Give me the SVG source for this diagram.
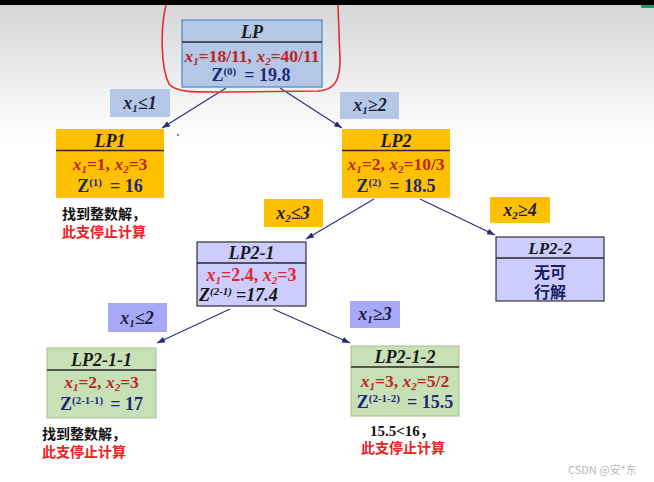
<svg xmlns="http://www.w3.org/2000/svg" width="654" height="482" viewBox="0 0 654 482">
<defs>
<linearGradient id="bg" x1="0" y1="0" x2="0" y2="1" gradientUnits="objectBoundingBox">
<stop offset="0" stop-color="#d4d4d4"/>
<stop offset="0.22" stop-color="#f6f6f6"/>
<stop offset="0.3" stop-color="#ffffff"/>
<stop offset="1" stop-color="#ffffff"/>
</linearGradient>
<marker id="arr" viewBox="0 0 8 6" refX="8" refY="3" markerWidth="8" markerHeight="6" markerUnits="userSpaceOnUse" orient="auto">
<path d="M0,0 L8,3 L0,6 z" fill="#2a2a80"/>
</marker>
<style>
.t{font-family:"Liberation Serif","Times New Roman",serif;font-weight:bold}
.title{font-style:italic;font-size:18px;fill:#1a1a1a;text-anchor:middle}
.val{font-size:17.5px;fill:#b8281e;text-anchor:middle}
.z{font-size:18px;fill:#1c2a7c;text-anchor:middle}
.lbl{font-style:italic;font-size:18px;fill:#1e1e40;text-anchor:middle}
.i{font-style:italic}
.sub{font-size:11px}
.sup{font-size:11px}
.sep{stroke:#2a2a2a;stroke-width:1.5}
.cn{font-family:"Noto Sans CJK SC",sans-serif;font-weight:bold;font-size:14px}
.blk{fill:#111}
.red{fill:#f02020}
.edge{stroke:#2f2f80;stroke-width:1.2;fill:none;marker-end:url(#arr)}
.blue{fill:#b4c7e7}
.org{fill:#ffc000}
.lav{fill:#a8a8f8}
</style>
</defs>
<rect x="0" y="0" width="654" height="482" fill="url(#bg)"/>
<rect x="0" y="0" width="654" height="5" fill="#000"/>
<rect x="641" y="5" width="13" height="3" fill="#17a06f"/>

<g id="connectors">
<line class="edge" x1="226" y1="88" x2="162" y2="128"/>
<line class="edge" x1="280" y1="88" x2="342" y2="128"/>
<line class="edge" x1="374" y1="199" x2="306" y2="239"/>
<line class="edge" x1="420" y1="199" x2="495" y2="235"/>
<line class="edge" x1="230" y1="309" x2="157" y2="343"/>
<line class="edge" x1="273" y1="309" x2="350" y2="343"/>
</g>

<g id="annot-circle">
<path d="M166,5 C160,30 161,68 169,84 C176,93 196,92 230,92 L318,91 C335,90 340,80 340,60 L338,5" fill="none" stroke="#e43030" stroke-width="1.6"/>
<path d="M184,69 Q210,64 238,65" fill="none" stroke="#e43030" stroke-width="1.6"/>
<circle cx="178" cy="135" r="1" fill="#e43030"/>
</g>

<g id="LP">
<rect x="182" y="20" width="140" height="67" fill="#b4c7e7" stroke="#5b9bd5" stroke-width="1.5"/>
<line class="sep" x1="182" y1="42" x2="322" y2="42"/>
<text class="t title" x="252" y="38">LP</text>
<text class="t val" x="252" y="62"><tspan class="i">x</tspan><tspan class="i sub" dy="3">1</tspan><tspan dy="-3">=18/11, </tspan><tspan class="i">x</tspan><tspan class="i sub" dy="3">2</tspan><tspan dy="-3">=40/11</tspan></text>
<text class="t z" x="251" y="81">Z<tspan class="sup" dy="-6">(0)</tspan><tspan dy="6" dx="8">= 19.8</tspan></text>
</g>

<g id="LP1">
<rect x="56" y="129" width="108" height="69" fill="#ffc000"/>
<line class="sep" x1="56" y1="150.5" x2="164" y2="150.5" stroke="#5a4a20"/>
<text class="t title" x="110" y="147">LP1</text>
<text class="t val" x="110" y="170"><tspan class="i">x</tspan><tspan class="i sub" dy="3">1</tspan><tspan dy="-3">=1, </tspan><tspan class="i">x</tspan><tspan class="i sub" dy="3">2</tspan><tspan dy="-3">=3</tspan></text>
<text class="t z" x="110" y="192">Z<tspan class="sup" dy="-6">(1)</tspan><tspan dy="6" dx="8">= 16</tspan></text>
</g>
<g id="note-LP1">
<text class="cn blk" x="62" y="219">找到整数解，</text>
<text class="cn red" x="62" y="237">此支停止计算</text>
</g>

<g id="LP2">
<rect x="342" y="129" width="108" height="69" fill="#ffc000"/>
<line class="sep" x1="342" y1="150.5" x2="450" y2="150.5" stroke="#5a4a20"/>
<text class="t title" x="396" y="147">LP2</text>
<text class="t val" x="396" y="170"><tspan class="i">x</tspan><tspan class="i sub" dy="3">1</tspan><tspan dy="-3">=2, </tspan><tspan class="i">x</tspan><tspan class="i sub" dy="3">2</tspan><tspan dy="-3">=10/3</tspan></text>
<text class="t z" x="396" y="192">Z<tspan class="sup" dy="-6">(2)</tspan><tspan dy="6" dx="8">= 18.5</tspan></text>
</g>

<g id="LP2-1">
<rect x="197" y="242" width="109" height="64" fill="#ccccff" stroke="#333" stroke-width="1.2"/>
<line class="sep" x1="197" y1="263" x2="306" y2="263"/>
<text class="t title" x="251.5" y="259">LP2-1</text>
<text class="t val" x="251.5" y="281" style="fill:#e02828;font-size:18px"><tspan class="i">x</tspan><tspan class="i sub" dy="3">1</tspan><tspan dy="-3">=2.4, </tspan><tspan class="i">x</tspan><tspan class="i sub" dy="3">2</tspan><tspan dy="-3">=3</tspan></text>
<text class="t i" x="199" y="301" style="font-size:18px;fill:#111">Z<tspan class="sup" dy="-6">(2-1)</tspan><tspan dy="6" dx="4">=17.4</tspan></text>
</g>

<g id="LP2-2">
<rect x="496" y="237" width="108" height="64" fill="#ccccff" stroke="#333" stroke-width="1.2"/>
<line class="sep" x1="496" y1="258" x2="604" y2="258"/>
<text class="t title" x="550" y="254" style="font-size:17px">LP2-2</text>
<text class="cn" x="550" y="278" style="font-size:16px;fill:#1a2060;text-anchor:middle">无可</text>
<text class="cn" x="550" y="298" style="font-size:16px;fill:#1a2060;text-anchor:middle">行解</text>
</g>

<g id="LP2-1-1">
<rect x="47" y="348" width="109" height="70" fill="#c8e0b6" stroke="#a4c28c" stroke-width="1"/>
<line class="sep" x1="47" y1="370" x2="156" y2="370"/>
<text class="t title" x="101.5" y="366">LP2-1-1</text>
<text class="t val" x="101.5" y="388"><tspan class="i">x</tspan><tspan class="i sub" dy="3">1</tspan><tspan dy="-3">=2, </tspan><tspan class="i">x</tspan><tspan class="i sub" dy="3">2</tspan><tspan dy="-3">=3</tspan></text>
<text class="t z" x="101.5" y="410">Z<tspan class="sup" dy="-6">(2-1-1)</tspan><tspan dy="6" dx="7">= 17</tspan></text>
</g>
<g id="note-LP2-1-1">
<text class="cn blk" x="42" y="439">找到整数解，</text>
<text class="cn red" x="42" y="457">此支停止计算</text>
</g>

<g id="LP2-1-2">
<rect x="351" y="346" width="108" height="70" fill="#c8e0b6" stroke="#a4c28c" stroke-width="1"/>
<line class="sep" x1="351" y1="367" x2="459" y2="367"/>
<text class="t title" x="405" y="363">LP2-1-2</text>
<text class="t val" x="405" y="387"><tspan class="i">x</tspan><tspan class="i sub" dy="3">1</tspan><tspan dy="-3">=3, </tspan><tspan class="i">x</tspan><tspan class="i sub" dy="3">2</tspan><tspan dy="-3">=5/2</tspan></text>
<text class="t z" x="405" y="408">Z<tspan class="sup" dy="-6">(2-1-2)</tspan><tspan dy="6" dx="7">= 15.5</tspan></text>
</g>
<g id="note-LP2-1-2">
<text class="t blk" x="370" y="436" style="font-size:15px;font-family:'Liberation Serif','Noto Sans CJK SC',serif">15.5&lt;16，</text>
<text class="cn red" x="361" y="453">此支停止计算</text>
</g>

<g id="label-x1le1">
<rect class="blue" x="110" y="89" width="60" height="28"/>
<text class="t lbl" x="140" y="109">x<tspan class="sub" dy="3">1</tspan><tspan dy="-3">≤1</tspan></text>
</g>
<g id="label-x1ge2">
<rect class="blue" x="340" y="92" width="59" height="27"/>
<text class="t lbl" x="370" y="111">x<tspan class="sub" dy="3">1</tspan><tspan dy="-3">≥2</tspan></text>
</g>
<g id="label-x2le3">
<rect class="org" x="264" y="199" width="59" height="28"/>
<text class="t lbl" x="293" y="219">x<tspan class="sub" dy="3">2</tspan><tspan dy="-3">≤3</tspan></text>
</g>
<g id="label-x2ge4">
<rect class="org" x="490" y="197" width="60" height="26"/>
<text class="t lbl" x="520" y="216">x<tspan class="sub" dy="3">2</tspan><tspan dy="-3">≥4</tspan></text>
</g>
<g id="label-x1le2">
<rect class="lav" x="108" y="303" width="59" height="29"/>
<text class="t lbl" x="137" y="324">x<tspan class="sub" dy="3">1</tspan><tspan dy="-3">≤2</tspan></text>
</g>
<g id="label-x1ge3">
<rect class="lav" x="350" y="301" width="50" height="27"/>
<text class="t lbl" x="375" y="320">x<tspan class="sub" dy="3">1</tspan><tspan dy="-3">≥3</tspan></text>
</g>

<text x="568" y="474" style="font-family:'Noto Sans CJK SC',sans-serif;font-size:11px;fill:#b8b8b8">CSDN @安*东</text>
</svg>
